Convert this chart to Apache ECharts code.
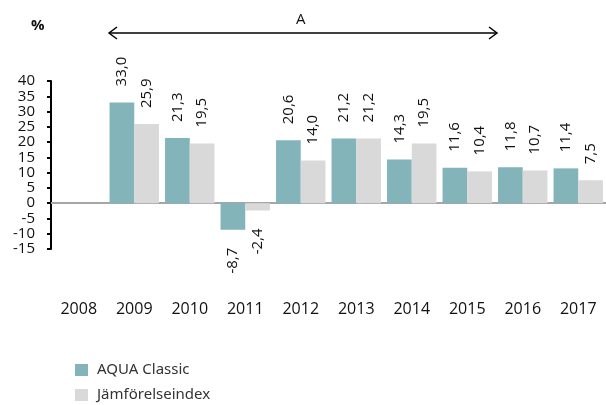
<!DOCTYPE html>
<html lang="sv">
<head>
<meta charset="UTF-8">
<title>AQUA Classic</title>
<style>
  html, body { margin: 0; padding: 0; background: #fff; }
  #chart { width: 606px; height: 405px; }
</style>
</head>
<body>
<div id="chart"></div>
<script src="https://cdn.jsdelivr.net/npm/echarts@6/dist/echarts.min.js"></script>
<script>
var years = ['2008', '2009', '2010', '2011', '2012', '2013', '2014', '2015', '2016', '2017'];
var aqua = [null, 33.0, 21.3, -8.7, 20.6, 21.2, 14.3, 11.6, 11.8, 11.4];
var index = [null, 25.9, 19.5, -2.4, 14.0, 21.2, 19.5, 10.4, 10.7, 7.5];
var seriesNames = ['AQUA Classic', 'Jämförelseindex'];

var chart = echarts.init(document.getElementById('chart'));

function fmt(v) {
  return v.toFixed(1).replace('.', ',');
}

// labels rotated, above positive bars and below negative ones
function withLabels(values) {
  return values.map(function (v) {
    if (v === null) return null;
    var neg = v < 0;
    return {
      value: v,
      label: {
        position: neg ? 'bottom' : 'top',
        align: neg ? 'right' : 'left',
        distance: neg ? 18 : 16
      }
    };
  });
}

var labelStyle = {
  show: true,
  rotate: 90,
  verticalAlign: 'middle',
  fontFamily: 'Open Sans',
  fontSize: 15,
  color: '#111',
  formatter: function (p) { return fmt(p.value); }
};

var option = {
  animation: false,
  grid: { left: 51, top: 81, height: 168, width: 563 },
  legend: {
    orient: 'vertical',
    left: 75,
    top: 360,
    padding: 0,
    itemWidth: 13,
    itemHeight: 12,
    itemGap: 5,
    icon: 'rect',
    textStyle: { fontFamily: 'Noto Sans', fontSize: 15, lineHeight: 20, color: '#333', padding: [0, 0, 0, 4] },
    data: seriesNames
  },
  xAxis: {
    type: 'category',
    data: years,
    axisLine: { onZero: true, lineStyle: { color: '#a6a6a6', width: 2 } },
    axisTick: { show: false },
    axisLabel: { margin: 52, fontFamily: 'Open Sans', fontSize: 16, color: '#111' }
  },
  yAxis: {
    type: 'value',
    min: -15,
    max: 40,
    interval: 5,
    splitLine: { show: false },
    axisLine: { show: true, lineStyle: { color: '#000', width: 2 } },
    axisTick: { show: true, length: 4, lineStyle: { color: '#000', width: 2 } },
    axisLabel: {
      margin: 16, fontFamily: 'Open Sans', fontSize: 15, color: '#111', lineHeight: 11,
      hideOverlap: false, showMinLabel: true, showMaxLabel: true
    }
  },
  series: [
    {
      name: seriesNames[0],
      type: 'bar',
      data: withLabels(aqua),
      itemStyle: { color: '#82b4ba' },
      barGap: '0%',
      barCategoryGap: '11%',
      label: labelStyle
    },
    {
      name: seriesNames[1],
      type: 'bar',
      data: withLabels(index),
      itemStyle: { color: '#d9d9d9' },
      label: labelStyle
    }
  ],
  graphic: [
    { type: 'text', left: 31, top: 18, style: { text: '%', fontFamily: 'Open Sans', fontSize: 15, fontWeight: 'bold', fill: '#111' } },
    { type: 'line', shape: { x1: 109, y1: 33, x2: 497, y2: 33 }, style: { stroke: '#000', lineWidth: 1.5 } },
    { type: 'polyline', shape: { points: [[117, 27], [109, 33], [117, 39]] }, style: { stroke: '#000', lineWidth: 1.5, fill: null } },
    { type: 'polyline', shape: { points: [[489, 27], [497, 33], [489, 39]] }, style: { stroke: '#000', lineWidth: 1.5, fill: null } },
    { type: 'text', left: 296, top: 12, style: { text: 'A', fontFamily: 'Open Sans', fontSize: 15, fill: '#111' } }
  ]
};

chart.setOption(option);
</script>
</body>
</html>
